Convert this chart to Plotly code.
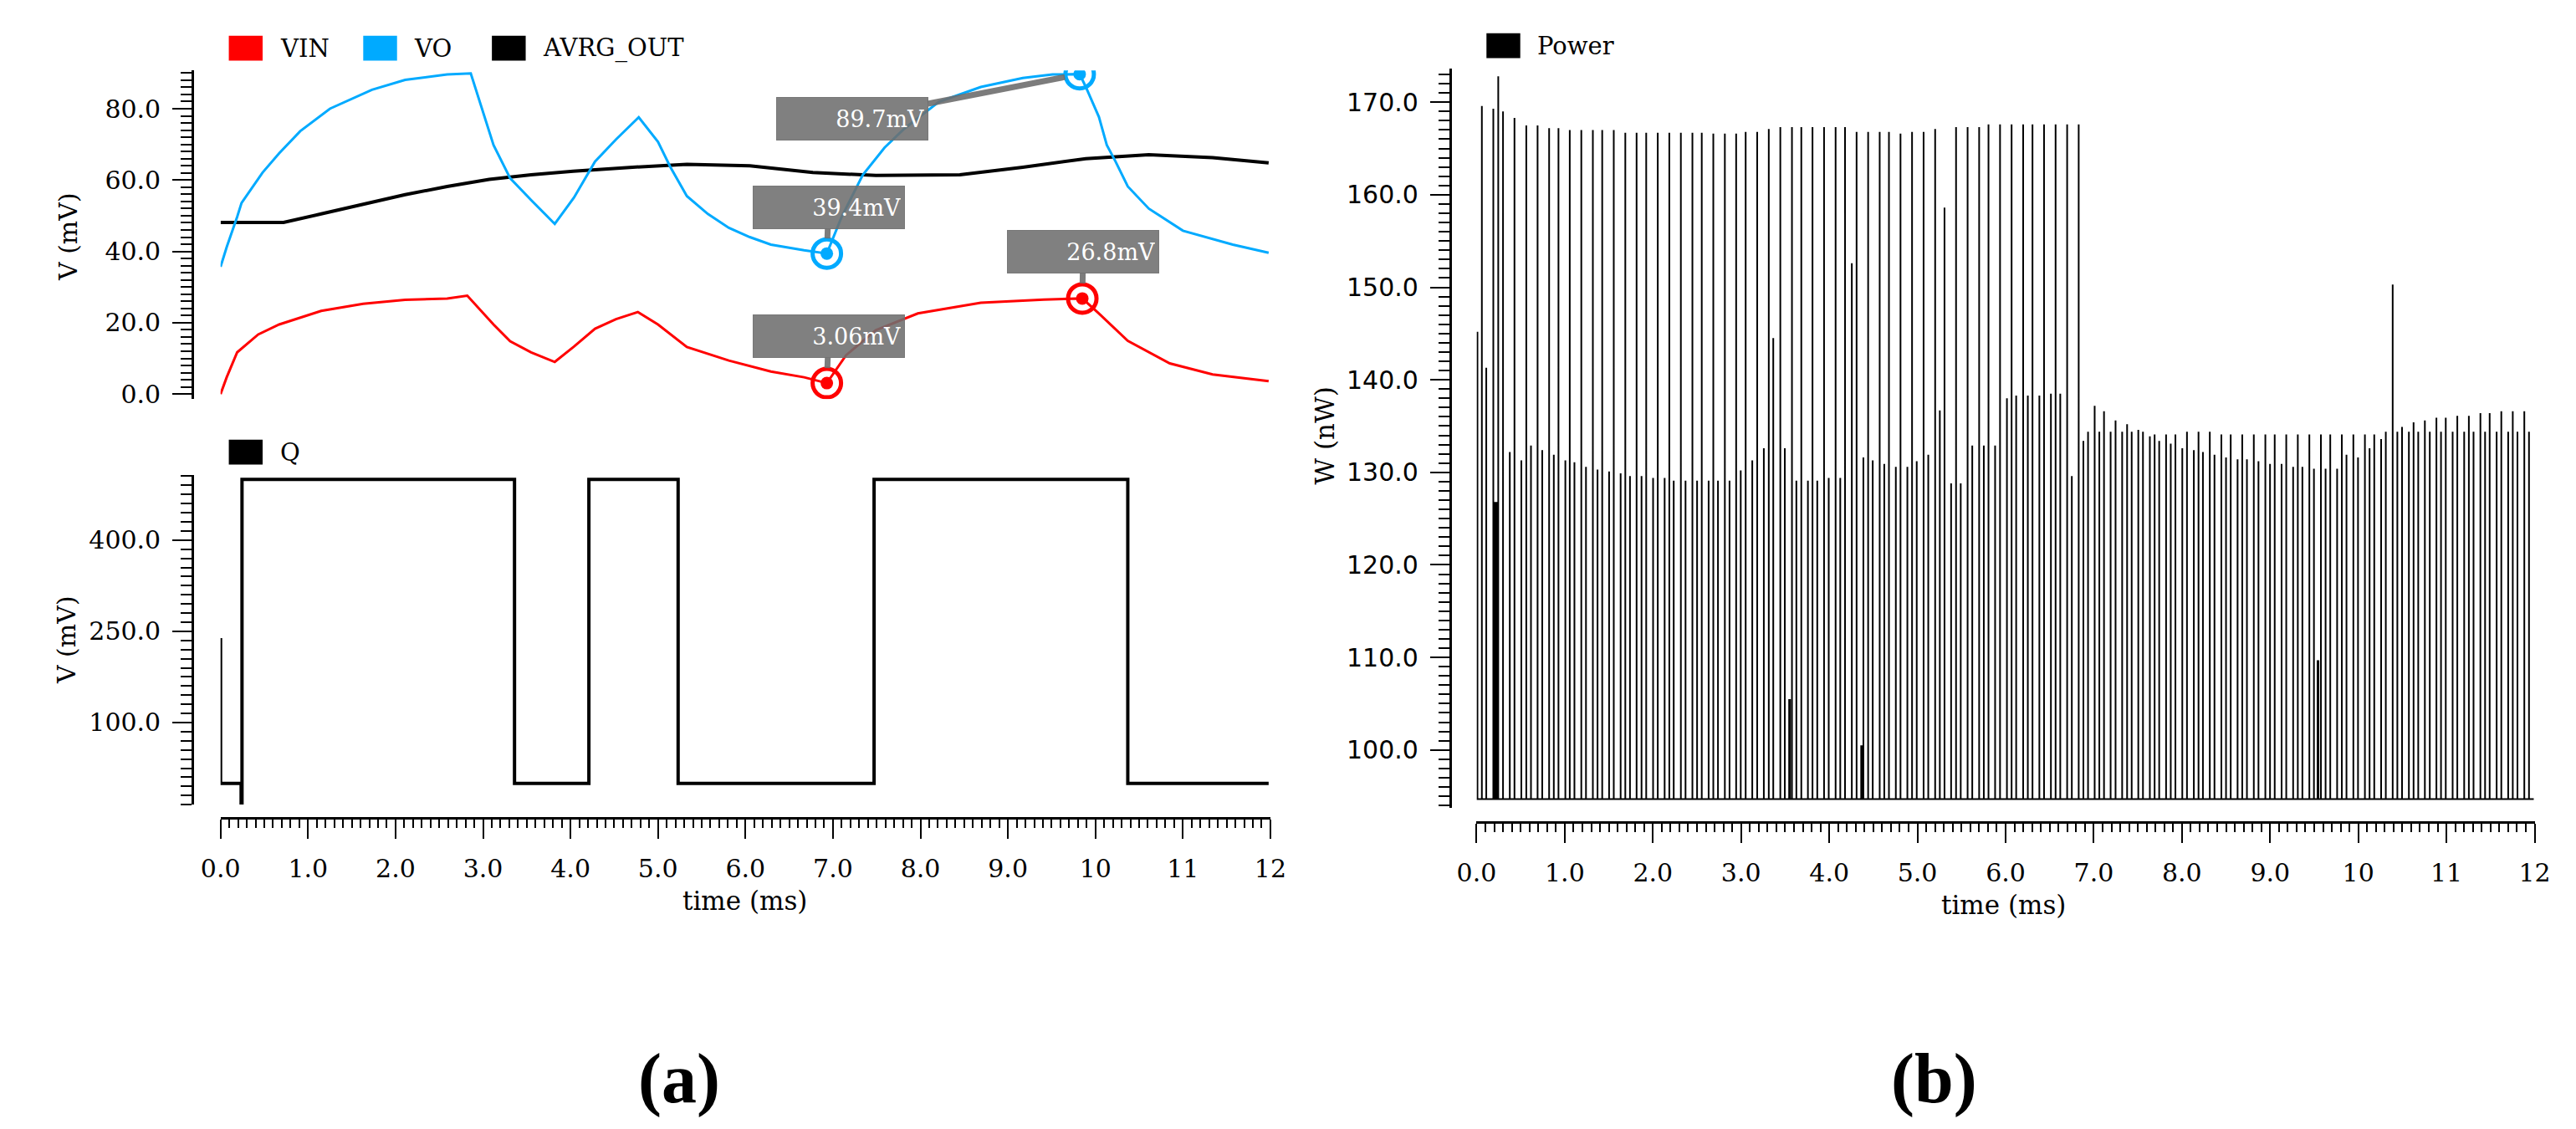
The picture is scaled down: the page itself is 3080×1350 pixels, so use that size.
import plotly.graph_objects as go

W, H = 3080, 1350
SERIF = "DejaVu Serif"

# ---- (a) top panel: VIN / VO / AVRG_OUT (mV) vs time (ms)
vo_t = [0, 0.07, 0.19, 0.24, 0.48, 0.67, 0.91, 1.25, 1.73, 2.11, 2.59, 2.86,
        3.12, 3.31, 3.55, 3.82, 4.04, 4.28, 4.52, 4.78, 5.0, 5.14, 5.33, 5.57,
        5.81, 6.05, 6.29, 6.67, 6.93, 7.10, 7.34, 7.59, 7.82, 8.21, 8.69, 9.17,
        9.51, 9.82, 9.89, 10.04, 10.13, 10.23, 10.37, 10.61, 11.0, 11.57, 11.98]
vo_v = [35.7, 41.2, 49.7, 53.6, 62.1, 67.5, 73.7, 80.0, 85.3, 88.1, 89.6, 89.9,
        69.8, 60.5, 54.4, 47.7, 55.1, 65.2, 71.4, 77.6, 70.7, 63.7, 55.5, 50.5,
        46.6, 44.0, 41.9, 40.3, 39.4, 49.7, 61.4, 69.1, 74.5, 81.9, 86.1, 88.6,
        89.6, 89.7, 86.1, 77.7, 69.8, 65.2, 58.2, 52.0, 45.8, 41.9, 39.6]

vin_t = [0, 0.07, 0.19, 0.43, 0.67, 1.15, 1.63, 2.11, 2.59, 2.82, 3.12, 3.31,
         3.55, 3.82, 4.04, 4.28, 4.52, 4.77, 5.0, 5.33, 5.81, 6.29, 6.67, 6.93,
         7.15, 7.49, 7.97, 8.69, 9.41, 9.85, 10.04, 10.37, 10.85, 11.34, 11.98]
vin_v = [0.0, 4.7, 11.7, 16.7, 19.5, 23.3, 25.3, 26.4, 26.8, 27.6, 19.5, 14.8,
         11.7, 9.0, 13.3, 18.3, 21.0, 23.0, 19.5, 13.2, 9.4, 6.3, 4.7, 3.06,
         10.9, 17.9, 22.6, 25.6, 26.5, 26.8, 22.6, 14.9, 8.6, 5.5, 3.6]

avg_t = [0, 0.72, 1.15, 1.63, 2.11, 2.59, 3.07, 3.55, 4.03, 4.71, 5.33, 6.05,
         6.77, 7.49, 8.45, 9.17, 9.89, 10.61, 11.34, 11.98]
avg_v = [48.1, 48.1, 50.5, 53.2, 55.9, 58.2, 60.2, 61.5, 62.5, 63.6, 64.4, 64.0,
         62.1, 61.3, 61.5, 63.6, 66.0, 67.1, 66.3, 64.8]

# cursor markers
vo_mark_t = [6.93, 9.82]
vo_mark_v = [39.4, 89.7]
vin_mark_t = [6.93, 9.85]
vin_mark_v = [3.06, 26.8]

# ---- (a) bottom panel: Q
q_t = [0, 0, 0.235, 0.235, 0.245, 0.245, 3.36, 3.36, 4.21, 4.21, 5.23, 5.23,
       7.47, 7.47, 10.37, 10.37, 11.98]
q_v = [239, 0, 0, -32, -32, 500, 500, 0, 0, 500, 500, 0, 0, 500, 500, 0, 0]

# ---- (b) Power spikes (nW)
p_base = 94.7
p_end = 11.99
power_t = [
    0.01, 0.06, 0.11, 0.19, 0.205, 0.215, 0.225, 0.235, 0.246, 0.30, 0.377, 0.43,
    0.508, 0.564, 0.617, 0.692, 0.745, 0.823, 0.876, 0.929, 1.007, 1.057, 1.11,
    1.188, 1.241, 1.319, 1.372, 1.425, 1.503, 1.556, 1.634, 1.687, 1.74, 1.815,
    1.871, 1.924, 2.002, 2.055, 2.133, 2.186, 2.236, 2.317, 2.37, 2.448, 2.501,
    2.554, 2.632, 2.685, 2.738, 2.816, 2.869, 2.944, 2.996,
    3.052, 3.127, 3.183, 3.258, 3.314, 3.365, 3.445, 3.496, 3.545, 3.555, 3.577,
    3.627, 3.683, 3.758, 3.81, 3.864, 3.941, 3.994, 4.072, 4.125, 4.179, 4.256,
    4.31, 4.362, 4.372, 4.387, 4.441, 4.493, 4.572, 4.624, 4.677, 4.755, 4.808,
    4.886, 4.939, 4.992, 5.07, 5.123, 5.201, 5.254, 5.307, 5.382, 5.438, 5.491,
    5.569, 5.622, 5.7, 5.753, 5.806, 5.881, 5.937, 6.015,
    6.068, 6.12, 6.199, 6.252, 6.305, 6.383, 6.436, 6.514, 6.567, 6.62, 6.698,
    6.751, 6.829, 6.882, 6.935, 7.01, 7.063, 7.116, 7.191, 7.247, 7.322, 7.378,
    7.43, 7.505, 7.558, 7.636, 7.69, 7.742, 7.82, 7.873, 7.926, 8.004, 8.057,
    8.135, 8.188, 8.238, 8.316, 8.369, 8.447, 8.5, 8.553, 8.631, 8.684, 8.737,
    8.815, 8.868, 8.946, 8.999, 9.052,
    9.13, 9.183, 9.261, 9.314, 9.366, 9.445, 9.497, 9.538, 9.548, 9.576, 9.629,
    9.682, 9.76, 9.813, 9.866, 9.944, 9.997, 10.075, 10.128, 10.181, 10.259,
    10.312, 10.39, 10.443, 10.496, 10.574, 10.627, 10.68, 10.755, 10.811, 10.886,
    10.938, 10.992, 11.07, 11.123, 11.201, 11.254, 11.307, 11.385, 11.438, 11.49,
    11.569, 11.622, 11.7, 11.752, 11.805, 11.883, 11.936]
power_w = [
    145.2, 169.6, 141.3, 169.3, 126.8, 126.8, 126.8, 126.8, 172.8, 169.0, 132.2, 168.3,
    131.3, 167.5, 132.9, 167.5, 132.4, 167.2, 131.9, 167.2, 131.3, 167.0, 131.1,
    167.0, 130.6, 167.0, 130.3, 167.0, 130.1, 167.0, 129.9, 166.7, 129.6, 166.7,
    129.6, 166.7, 129.4, 166.7, 129.4, 166.7, 129.1, 166.7, 129.1, 166.7, 129.1,
    166.7, 129.1, 166.6, 129.1, 166.6, 129.1, 166.6, 130.2,
    166.8, 131.3, 166.8, 132.6, 167.1, 144.5, 167.3, 132.6, 105.5, 105.5, 167.3,
    129.1, 167.3, 129.1, 167.3, 129.1, 167.3, 129.4, 167.3, 129.4, 167.3, 152.6,
    166.8, 100.5, 100.5, 131.6, 166.8, 131.3, 166.8, 130.9, 166.8, 130.6, 166.6,
    130.6, 166.8, 131.2, 166.8, 131.9, 167.1, 136.7, 158.6, 128.8, 167.3, 128.8,
    167.3, 132.9, 167.3, 132.9, 167.6, 132.9, 167.6, 138.0,
    167.6, 138.3, 167.6, 138.3, 167.6, 138.3, 167.6, 138.5, 167.6, 138.5, 167.6,
    129.6, 167.6, 133.4, 134.4, 137.2, 134.4, 136.6, 134.4, 135.6, 134.4, 135.2,
    134.4, 134.6, 134.4, 133.9, 134.1, 133.4, 134.1, 133.1, 134.1, 132.6, 134.4,
    132.4, 134.4, 132.2, 134.4, 131.9, 134.1, 131.6, 134.1, 131.4, 134.1, 131.4,
    134.1, 131.2, 134.1, 130.9, 134.1,
    130.9, 134.1, 130.6, 134.1, 130.6, 134.1, 130.4, 109.7, 109.7, 134.1, 130.4,
    134.1, 130.4, 134.1, 131.9, 134.1, 131.6, 134.1, 132.6, 134.1, 133.6,
    134.4, 150.3, 134.4, 134.9, 134.4, 135.4, 134.4, 135.6, 134.4, 135.9,
    134.4, 135.9, 134.4, 136.1, 134.4, 136.1, 134.4, 136.4, 134.4, 136.4,
    134.4, 136.6, 134.4, 136.6, 134.4, 136.6, 134.4]

x_ticks = list(range(13))
x_labels = ["0.0", "1.0", "2.0", "3.0", "4.0", "5.0", "6.0", "7.0", "8.0",
            "9.0", "10", "11", "12"]


def px(x):
    return x / W


def py(y):
    return 1 - y / H


# spikes as one polyline along the baseline
sx, sy = [0.0], [p_base]
for t, w in zip(power_t, power_w):
    sx += [t, t, t]
    sy += [p_base, w, p_base]
sx.append(p_end)
sy.append(p_base)

fig = go.Figure()

fig.add_trace(go.Scatter(x=avg_t, y=avg_v, mode="lines", name="AVRG_OUT",
                         line=dict(color="black", width=4), xaxis="x", yaxis="y"))
fig.add_trace(go.Scatter(x=vo_t, y=vo_v, mode="lines", name="VO",
                         line=dict(color="#00aaff", width=3), xaxis="x", yaxis="y"))
fig.add_trace(go.Scatter(x=vin_t, y=vin_v, mode="lines", name="VIN",
                         line=dict(color="#ff0000", width=3), xaxis="x", yaxis="y"))

for mt, mv, col in [(vo_mark_t, vo_mark_v, "#00aaff"), (vin_mark_t, vin_mark_v, "#ff0000")]:
    fig.add_trace(go.Scatter(x=mt, y=mv, mode="markers", xaxis="x", yaxis="y",
                             marker=dict(symbol="circle-open", size=34, color=col,
                                         line=dict(width=5, color=col))))
    fig.add_trace(go.Scatter(x=mt, y=mv, mode="markers", xaxis="x", yaxis="y",
                             marker=dict(symbol="circle", size=15, color=col)))

fig.add_trace(go.Scatter(x=q_t, y=q_v, mode="lines", name="Q",
                         line=dict(color="black", width=4), xaxis="x2", yaxis="y2"))

fig.add_trace(go.Scatter(x=sx, y=sy, mode="lines", name="Power",
                         line=dict(color="black", width=2), xaxis="x3", yaxis="y3"))

tickfont = dict(family=SERIF, size=30, color="black")
axis_common = dict(showgrid=False, zeroline=False, showline=True, linecolor="black",
                   linewidth=3, ticks="outside", ticklen=23, tickwidth=2,
                   tickcolor="black", tickfont=tickfont)

x_common = dict(axis_common, range=[0, 12], tickmode="array", tickvals=x_ticks,
                ticktext=x_labels, ticklabelstandoff=10,
                minor=dict(ticks="outside", ticklen=10, tickwidth=2, tickcolor="black",
                           dtick=0.1, tick0=0, showgrid=False))

fig.update_layout(
    width=W, height=H, margin=dict(l=0, r=0, t=0, b=0),
    paper_bgcolor="white", plot_bgcolor="white", showlegend=False,
    font=dict(family=SERIF, color="black"),
    xaxis=dict(domain=[px(235), px(1508)], range=[0, 12], visible=False, anchor="y"),
    yaxis=dict(axis_common, domain=[py(473), py(77)], range=[-1.4, 90.7],
               anchor="free", position=px(201), tickmode="linear", tick0=0, dtick=20,
               tickformat=".1f", ticklabelstandoff=8,
               minor=dict(ticks="outside", ticklen=13, tickwidth=2, tickcolor="black",
                          dtick=2, tick0=0, showgrid=False)),
    xaxis2=dict(x_common, domain=[px(235), px(1508)], anchor="free", position=py(978)),
    yaxis2=dict(axis_common, domain=[py(962), py(565)], range=[-35, 506.5],
                anchor="free", position=px(201), tickmode="linear", tick0=100, dtick=150,
                tickformat=".1f", ticklabelstandoff=8,
                minor=dict(ticks="outside", ticklen=13, tickwidth=2, tickcolor="black",
                           dtick=15, tick0=100, showgrid=False)),
    xaxis3=dict(x_common, domain=[px(1758), px(3041)], anchor="free", position=py(983)),
    yaxis3=dict(axis_common, domain=[py(966), py(75)], range=[93.73, 173.6],
                anchor="free", position=px(1726), tickmode="linear", tick0=100, dtick=10,
                tickformat=".1f", ticklabelstandoff=8,
                tickfont=dict(family="DejaVu Sans", size=30, color="black"),
                minor=dict(ticks="outside", ticklen=13, tickwidth=2, tickcolor="black",
                           dtick=1, tick0=100, showgrid=False)),
)

# legends drawn as swatches + labels
legend_items = [
    ("VIN", "#ff0000", 245, 35),
    ("VO", "#00aaff", 408, 35),
    ("AVRG_OUT", "black", 564, 35),
    ("Q", "black", 245, 522),
    ("Power", "black", 1770, 32),
]
for name, col, lx, ly in legend_items:
    fig.add_shape(type="rect", xref="paper", yref="paper", x0=px(lx), x1=px(lx + 41),
                  y0=py(ly + 30), y1=py(ly), fillcolor=col, line=dict(width=0))
    fig.add_annotation(x=px(lx + 60), y=py(ly + 15), xref="paper", yref="paper",
                       text=name, showarrow=False, xanchor="left", yanchor="middle",
                       font=dict(family=SERIF, size=29, color="black"))

# cursor callouts
callouts = [
    (vo_mark_t[0], vo_mark_v[0], 2, -55),
    (vo_mark_t[1], vo_mark_v[1], -272, 53),
    (vin_mark_t[0], vin_mark_v[0], 2, -56),
    (vin_mark_t[1], vin_mark_v[1], 1, -56),
]
for t, v, ax, ay in callouts:
    fig.add_annotation(x=t, y=v, xref="x", yref="y", text=f"{v}mV",
                       showarrow=True, arrowhead=0, arrowwidth=7,
                       arrowcolor="rgba(110,110,110,0.9)", ax=ax, ay=ay, standoff=18,
                       bgcolor="rgba(110,110,110,0.88)", bordercolor="rgba(110,110,110,0.88)",
                       borderpad=4, width=172, height=42, align="right",
                       font=dict(family=SERIF, size=27, color="white"))

# axis titles and panel labels
texts = [
    ("V (mV)", 50, 277, -90, 30, False),
    ("V (mV)", 48, 763, -90, 30, False),
    ("time (ms)", 871, 1078, 0, 31, False),
    ("W (nW)", 1574, 517, -90, 31, False),
    ("time (ms)", 2397, 1083, 0, 31, False),
    ("<b>(a)</b>", 791, 1293, 0, 84, True),
    ("<b>(b)</b>", 2313, 1293, 0, 84, True),
]
for txt, tx, ty, ang, size, bold in texts:
    fig.add_annotation(x=px(tx), y=py(ty), xref="paper", yref="paper", text=txt,
                       showarrow=False, textangle=ang, xanchor="center", yanchor="middle",
                       font=dict(family="Liberation Serif" if bold else SERIF,
                                 size=size, color="black"))

fig.write_html("out.html")
